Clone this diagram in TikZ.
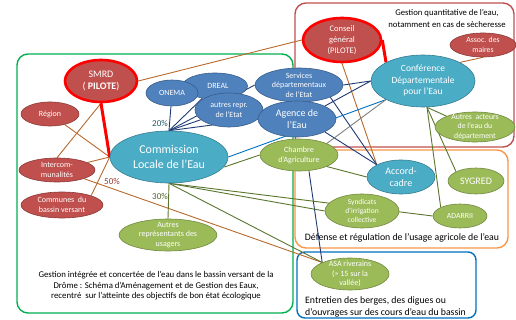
\documentclass[tikz,border=0pt]{standalone}
\usepackage{fontspec}
\setmainfont{Carlito}
\usetikzlibrary{shapes.geometric,calc}
\definecolor{redfill}{HTML}{C0504D}
\definecolor{reddraw}{HTML}{8C3A37}
\definecolor{bluefill}{HTML}{4F81BD}
\definecolor{bluedraw}{HTML}{385D8A}
\definecolor{tealfill}{HTML}{4BACC6}
\definecolor{tealdraw}{HTML}{357D91}
\definecolor{greenfill}{HTML}{9BBB59}
\definecolor{greendraw}{HTML}{71893F}
\definecolor{pilotered}{HTML}{FF0000}
\definecolor{brownline}{HTML}{B8692C}
\definecolor{navyline}{HTML}{1F3A73}
\definecolor{lightblueline}{HTML}{0070C0}
\definecolor{oliveline}{HTML}{5A752C}
\definecolor{grayline}{HTML}{7F7F7F}
\definecolor{boxgreen}{HTML}{00B050}
\definecolor{boxred}{HTML}{C0504D}
\definecolor{boxorange}{HTML}{F79646}
\definecolor{boxblue}{HTML}{0070C0}
\definecolor{pcttwenty}{HTML}{215868}
\definecolor{pctfifty}{HTML}{953735}
\definecolor{pctthirty}{HTML}{4F6228}
\newcommand\myfs[2]{\fontsize{#1}{#2}\selectfont}
\pgfdeclarelayer{bglayer}
\pgfdeclarelayer{linelayer}
\pgfsetlayers{bglayer,linelayer,main}
\tikzset{
  ell/.style 2 args={ellipse, minimum width=#1pt, minimum height=#2pt, inner sep=-5pt, align=center, text=white, line width=0.6pt},
  rednode/.style={fill=redfill, draw=reddraw},
  bluenode/.style={fill=bluefill, draw=bluedraw},
  tealnode/.style={fill=tealfill, draw=tealdraw},
  greennode/.style={fill=greenfill, draw=greendraw},
  pilote/.style={draw=pilotered, line width=2.6pt},
  conn/.style={line width=0.9pt},
  brownc/.style={conn, draw=brownline},
  navyc/.style={conn, draw=navyline},
  lbluec/.style={conn, draw=lightblueline},
  olivec/.style={conn, draw=oliveline},
  grayc/.style={conn, draw=grayline},
  redc/.style={draw=pilotered, line width=3pt},
  zonebox/.style={rounded corners=11pt, line width=1.4pt},
  zonetext/.style={text=black, align=center, inner sep=0pt}
}
\begin{document}
\begin{tikzpicture}[x=1pt,y=-1pt]
\useasboundingbox (0,0) rectangle (516,320);

% ---------- nodes ----------
\node[ell={72}{42}, rednode, pilote, font=\myfs{10}{11.5}] (smrd) at (101,81) {SMRD\\( \textbf{PILOTE})};
\node[ell={58}{24}, rednode, font=\myfs{8}{9}] (region) at (50,114) {Région};
\node[ell={76}{24}, rednode, font=\myfs{8}{10.5}] (intercom) at (57,170) {Intercom-\\munalités};
\node[ell={82}{26}, rednode, font=\myfs{8}{10.5}] (communes) at (62,205) {Communes\ \ du\\bassin versant};

\node[ell={118}{52}, tealnode, font=\myfs{12}{14.5}] (cle) at (169,157) {Commission\\Locale de l’Eau};

\node[ell={65}{26}, bluenode, font=\myfs{8}{9.5}] (dreal) at (215,86) {\hspace*{6pt}DREAL};
\node[ell={52}{26}, bluenode, font=\myfs{8}{9.5}] (onema) at (172,93) {ONEMA};
\node[ell={68}{34}, bluenode, font=\myfs{8}{10}] (autres) at (229,110) {autres repr.\\de l’Etat};
\node[ell={88}{34}, bluenode, font=\myfs{8}{9.7}] (services) at (299,85) {Services\\départementaux\\de l’Etat};
\node[ell={78}{36}, bluenode, font=\myfs{10}{12}] (agence) at (297,119) {Agence de\\l’Eau};
\node[ell={78}{32}, greennode, font=\myfs{8}{10}] (chambre) at (299,155) {Chambre\\d’Agriculture};

\node[ell={78}{44}, rednode, pilote, font=\myfs{8.5}{11}] (cg) at (342,40) {Conseil\\général\\(PILOTE)};
\node[ell={66}{24}, rednode, font=\myfs{7.8}{10}] (assoc) at (483,45) {Assoc. des\\maires};
\node[ell={104}{52}, tealnode, font=\myfs{9.5}{11.5}] (conf) at (423,81) {Conférence\\Départementale\\pour l’Eau};
\node[ell={80}{30}, greennode, font=\myfs{7.8}{9.8}] (autresacteurs) at (475,127) {Autres\ \ acteurs\\de l’eau du\\département};

\node[ell={68}{34}, tealnode, font=\myfs{10}{12}] (accord) at (401,177) {Accord-\\cadre};
\node[ell={56}{26}, greennode, font=\myfs{10}{12}] (sygred) at (476,181) {SYGRED};
\node[ell={54}{24}, greennode, font=\myfs{7.8}{9}] (adarrii) at (460,216) {ADARRII};
\node[ell={74}{34}, greennode, font=\myfs{7.5}{9}] (syndicats) at (362,211) {Syndicats\\d’irrigation\\collective};
\node[ell={78}{32}, greennode, font=\myfs{8}{9.8}] (asa) at (350,274) {ASA riverains\\(> 15 sur la\\vallée)};
\node[ell={98}{32}, greennode, font=\myfs{8}{9.8}] (usagers) at (168,235) {Autres\\représentants des\\usagers};

% percentages
\node[text=pcttwenty, font=\myfs{9}{10}, inner sep=0pt] (p20) at (160,123) {20\%};
\node[text=pctfifty, font=\myfs{9}{10}, inner sep=0pt] (p50) at (112,181) {50\%};
\node[text=pctthirty, font=\myfs{9}{10}, inner sep=0pt] (p30) at (160,196) {30\%};

% zone texts
\node[zonetext, font=\myfs{8.7}{12}] (tquant) at (447,18) {Gestion quantitative de l’eau,\\notamment en cas de sècheresse};
\node[zonetext, font=\myfs{9.8}{11}] (tagri) at (402,238) {Défense et régulation de l’usage agricole de l’eau};
\node[zonetext, align=left, anchor=west, font=\myfs{9.8}{12.5}] (tberges) at (305,307) {Entretien des berges, des digues ou\\d’ouvrages sur des cours d’eau du bassin};
\node[zonetext, font=\myfs{8.8}{10.6}] (tsage) at (156,286) {Gestion intégrée et concertée de l’eau dans le bassin versant de la\\Drôme : Schéma d’Aménagement et de Gestion des Eaux,\\recentré\ \ sur l’atteinte des objectifs de bon état écologique};

% ---------- zone boxes ----------
\begin{pgfonlayer}{bglayer}
\draw[zonebox, draw=boxgreen] (17,54) rectangle (293,313);
\draw[zonebox, draw=boxred] (295,3) rectangle (514,147);
\draw[zonebox, draw=boxorange] (295,150) rectangle (508,248);
\draw[zonebox, draw=boxblue, rounded corners=8pt] (297,252) rectangle (476,318);
\end{pgfonlayer}

% ---------- connectors ----------
\begin{pgfonlayer}{linelayer}
% brown
\draw[brownc] (smrd.east) -- (cg.west);
\draw[brownc] (smrd.south) -- (intercom.north);
\draw[brownc] (region) -- (cle.west);
\draw[brownc] (intercom) -- (cle.west);
\draw[brownc] (communes.north east) -- (cle.west);
\draw[brownc] (intercom.south east) -- (asa.north west);
\draw[brownc] (cg.south) -- (accord.north west);
\draw[brownc] (conf.north east) -- (assoc.south);
% navy
\draw[navyc] (cle.north) -- (onema);
\draw[navyc] (cle.north) -- (dreal);
\draw[navyc] (cle.north) -- (autres);
\draw[navyc] (cle.north) -- (services.west);
\draw[navyc] (cle.north) -- (agence.west);
\draw[navyc] (services.east) -- (conf.west);
\draw[navyc] (agence.north east) -- (conf.west);
\draw[navyc] (services.south east) -- (accord.north west);
\draw[navyc] (agence.south east) -- (accord.north west);
\draw[navyc] ($(chambre.south)+(10,0)$) -- (asa.north west);
% light blue
\draw[lbluec] (cle.east) -- (conf.south west);
% gray
\draw[grayc] (chambre.north east) -- (conf.south west);
% olive
\draw[olivec] ($(cle.east)+(-4,10)$) -- (chambre.west);
\draw[olivec] (cle.south) -- (usagers.north);
\draw[olivec] (cle.south) -- (syndicats.west);
\draw[olivec] (cle.south) -- (adarrii.west);
\draw[olivec] (cle.south) -- (asa.north west);
\draw[olivec] (chambre.south east) -- (accord.west);
\draw[olivec] ($(conf.south)+(4,0)$) -- (autresacteurs.north west);
\draw[olivec] ($(conf.south)+(4,0)$) -- (sygred.north west);
\draw[olivec] ($(conf.south)+(4,0)$) -- (adarrii.north west);
% thick red
\draw[redc] (smrd.south) -- (cle.west);
\draw[redc] (cg.east) -- (conf.north west);
\end{pgfonlayer}
\end{tikzpicture}
\end{document}
